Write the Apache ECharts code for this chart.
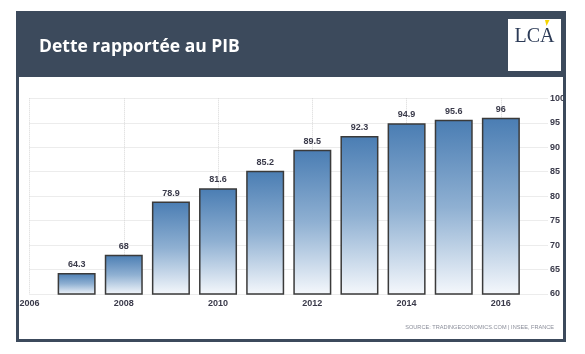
<!DOCTYPE html>
<html><head><meta charset="utf-8">
<script src="https://cdn.jsdelivr.net/npm/echarts@6/dist/echarts.min.js"></script>
<style>html,body{margin:0;padding:0;background:#fff}#c{width:585px;height:354px}</style>
</head><body><div id="c"></div>
<script>
const years = [2007, 2008, 2009, 2010, 2011, 2012, 2013, 2014, 2015, 2016];
const debt = [64.3, 68, 78.9, 81.6, 85.2, 89.5, 92.3, 94.9, 95.6, 96];
const xTickLabels = [2006, 2008, 2010, 2012, 2014, 2016];
const yTickLabels = [60, 65, 70, 75, 80, 85, 90, 95, 100];
const titleText = 'Dette rapportée au PIB';
const logoText = 'LCA';
const sourceText = 'SOURCE: TRADINGECONOMICS.COM | INSEE, FRANCE';

const frameColor = '#3c4a5c';
const chart = echarts.init(document.getElementById('c'), null, {renderer: 'canvas'});
const option = {
  animation: false,
  backgroundColor: '#ffffff',
  grid: {left: 29.5, right: 37, top: 98.3, bottom: 60},
  xAxis: {
    type: 'value',
    min: xTickLabels[0],
    max: 2017,
    interval: 2,
    axisLine: {show: false},
    axisTick: {show: false},
    axisLabel: {
      margin: 5, fontSize: 9, fontWeight: 'bold', color: '#3a3a4a',
      fontFamily: 'Liberation Sans',
      formatter: v => (xTickLabels.indexOf(v) >= 0 ? String(v) : '')
    },
    splitLine: {show: true, showMaxLine: false, lineStyle: {type: 'dotted', color: '#d8d8d8', width: 1}}
  },
  yAxis: {
    type: 'value',
    position: 'right',
    min: yTickLabels[0],
    max: yTickLabels[yTickLabels.length - 1],
    interval: 5,
    axisLine: {show: false},
    axisTick: {show: false},
    axisLabel: {
      margin: 2, fontSize: 9, fontWeight: 'bold', color: '#3a3a4a',
      fontFamily: 'Liberation Sans',
      formatter: v => (yTickLabels.indexOf(v) >= 0 ? String(v) : '')
    },
    splitLine: {show: true, lineStyle: {type: 'dotted', color: '#d8d8d8', width: 1}}
  },
  series: [{
    type: 'bar',
    data: years.map((y, i) => [y, debt[i]]),
    barWidth: 38,
    clip: true,
    itemStyle: {
      color: new echarts.graphic.LinearGradient(0, 0, 0, 1, [
        {offset: 0, color: '#4a7db3'},
        {offset: 0.5, color: '#8fb0d2'},
        {offset: 1, color: '#f5f8fc'}
      ]),
      borderColor: '#3a3a3a',
      borderWidth: 1.5
    },
    label: {
      show: true, position: 'top', distance: 4,
      fontSize: 9, fontWeight: 'bold', color: '#3a3a4a', fontFamily: 'Liberation Sans',
      formatter: p => String(p.value[1])
    }
  }],
  graphic: [
    {type: 'rect', z: 100, shape: {x: 16, y: 11, width: 550, height: 66}, style: {fill: frameColor}},
    {type: 'rect', z: 100, shape: {x: 17.5, y: 12.5, width: 547, height: 328}, style: {fill: 'none', stroke: frameColor, lineWidth: 3}},
    {type: 'text', z: 101, style: {x: 39, y: 47, text: titleText, fill: '#ffffff',
      font: 'bold 17.5px "Open Sans"', align: 'left', verticalAlign: 'middle'}},
    {type: 'rect', z: 101, shape: {x: 508, y: 19, width: 53, height: 52}, style: {fill: '#ffffff'}},
    {type: 'text', z: 102, style: {x: 534.5, y: 37, text: logoText, fill: '#2c3b57',
      font: '20px "Liberation Serif"', align: 'center', verticalAlign: 'middle'}},
    {type: 'polygon', z: 103, shape: {points: [[545, 20], [549.5, 20], [546.5, 26]]}, style: {fill: '#f5d400'}},
    {type: 'text', z: 101, style: {x: 554, y: 327.5, text: sourceText, fill: '#8a8d99',
      font: '5.6px "Liberation Sans"', align: 'right', verticalAlign: 'middle'}}
  ]
};
chart.setOption(option);
</script>
</body></html>
